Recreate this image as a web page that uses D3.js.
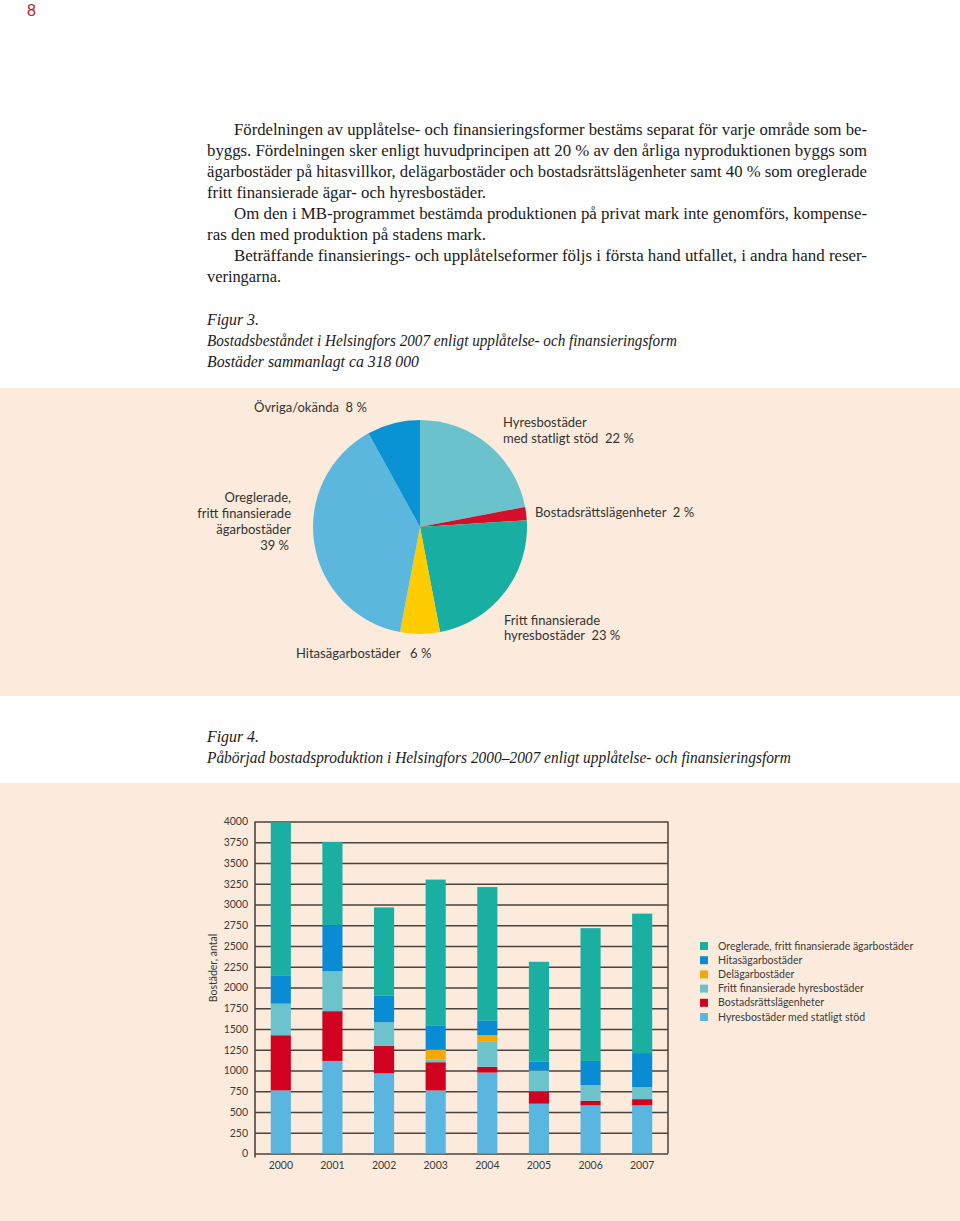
<!DOCTYPE html>
<html>
<head>
<meta charset="utf-8">
<script src="https://cdn.jsdelivr.net/npm/d3@7"></script>
<style>
  html, body { margin: 0; padding: 0; background: #fff; }
  svg { display: block; }
</style>
</head>
<body>
<svg id="page" width="960" height="1221"></svg>
<script>
// ---------- DATA ----------
const pieLabels = ["Hyresbostäder med statligt stöd", "Bostadsrättslägenheter", "Fritt finansierade hyresbostäder", "Hitasägarbostäder", "Oreglerade, fritt finansierade ägarbostäder", "Övriga/okända"];
const pieValues = [22, 2, 23, 6, 39, 8];
const pieColors = ["#6AC3CC", "#D2102A", "#18AEA2", "#FFCC00", "#5BB7DE", "#0A93D4"];

const years = ["2000", "2001", "2002", "2003", "2004", "2005", "2006", "2007"];
const seriesNames = ["Hyresbostäder med statligt stöd", "Bostadsrättslägenheter", "Fritt finansierade hyresbostäder", "Delägarbostäder", "Hitasägarbostäder", "Oreglerade, fritt finansierade ägarbostäder"];
const statligtStod   = [760, 1115, 965, 760, 975, 600, 580, 580];
const bostadsratt    = [665, 600, 330, 340, 70, 150, 55, 75];
const frittHyres     = [380, 480, 285, 30, 300, 250, 190, 145];
const delagar        = [0, 0, 0, 120, 80, 0, 0, 0];
const hitas          = [335, 555, 320, 295, 180, 110, 290, 410];
const oreglerade     = [1850, 1005, 1065, 1755, 1605, 1200, 1600, 1680];
const barColors = ["#5AB5DF", "#D0021F", "#6CC3CC", "#F5A800", "#0A8CD4", "#1BAFA1"];
const yTicks = [0, 250, 500, 750, 1000, 1250, 1500, 1750, 2000, 2250, 2500, 2750, 3000, 3250, 3500, 3750, 4000];
const legendOrder = [5, 4, 3, 2, 1, 0];

const svg = d3.select("#page");
const serif = "'Liberation Serif', 'DejaVu Serif', serif";
const sans = "Lato, 'Open Sans', sans-serif";
const peach = "#FCEBDC";

// page number
svg.append("text").attr("x", 27).attr("y", 16).attr("font-family", "'Liberation Sans', Arial, sans-serif")
  .attr("font-size", 16).attr("fill", "#B3202E").text("8");

// ---------- body text ----------
const bodyLines = [
  {x: 234, y: 135, t: "Fördelningen av upplåtelse- och finansieringsformer bestäms separat för varje område som be-", w: 633},
  {x: 207, y: 156, t: "byggs. Fördelningen sker enligt huvudprincipen att 20 % av den årliga nyproduktionen byggs som", w: 660},
  {x: 207, y: 177, t: "ägarbostäder på hitasvillkor, delägarbostäder och bostadsrättslägenheter samt 40 % som oreglerade", w: 660},
  {x: 207, y: 198, t: "fritt finansierade ägar- och hyresbostäder.", w: 279},
  {x: 234, y: 219, t: "Om den i MB-programmet bestämda produktionen på privat mark inte genomförs, kompense-", w: 633},
  {x: 207, y: 240, t: "ras den med produktion på stadens mark.", w: 279},
  {x: 234, y: 261, t: "Beträffande finansierings- och upplåtelseformer följs i första hand utfallet, i andra hand reser-", w: 633},
  {x: 207, y: 282, t: "veringarna.", w: 74}
];
svg.append("g").selectAll("text").data(bodyLines).join("text")
  .attr("x", d => d.x).attr("y", d => d.y)
  .attr("font-family", serif).attr("font-size", 16).attr("fill", "#1a1a1a")
  .attr("textLength", d => d.w).attr("lengthAdjust", "spacingAndGlyphs")
  .text(d => d.t);

const captions = [
  {x: 207, y: 325, t: "Figur 3.", w: 52},
  {x: 207, y: 346, t: "Bostadsbeståndet i Helsingfors 2007 enligt upplåtelse- och finansieringsform", w: 470},
  {x: 207, y: 367, t: "Bostäder sammanlagt ca 318 000", w: 212},
  {x: 207, y: 742, t: "Figur 4.", w: 52},
  {x: 207, y: 763, t: "Påbörjad bostadsproduktion i Helsingfors 2000–2007 enligt upplåtelse- och finansieringsform", w: 584}
];
svg.append("g").selectAll("text").data(captions).join("text")
  .attr("x", d => d.x).attr("y", d => d.y)
  .attr("font-family", serif).attr("font-style", "italic").attr("font-size", 16).attr("fill", "#1a1a1a")
  .attr("textLength", d => d.w).attr("lengthAdjust", "spacingAndGlyphs")
  .text(d => d.t);

// ---------- panels ----------
svg.append("rect").attr("x", 0).attr("y", 388).attr("width", 960).attr("height", 308).attr("fill", peach);
svg.append("rect").attr("x", 0).attr("y", 783).attr("width", 960).attr("height", 438).attr("fill", peach);

// ---------- pie ----------
const pie = d3.pie().sort(null).value(d => d);
const arc = d3.arc().innerRadius(0).outerRadius(107);
const gPie = svg.append("g").attr("transform", "translate(420,527)");
gPie.selectAll("path").data(pie(pieValues)).join("path")
  .attr("d", arc).attr("fill", (d, i) => pieColors[i]);

const pieText = [
  {x: 254, y: 412, a: "start", t: "Övriga/okända  " + pieValues[5] + " %"},
  {x: 503, y: 427, a: "start", t: "Hyresbostäder"},
  {x: 503, y: 443, a: "start", t: "med statligt stöd  " + pieValues[0] + " %"},
  {x: 535, y: 517, a: "start", t: "Bostadsrättslägenheter  " + pieValues[1] + " %"},
  {x: 291, y: 502, a: "end", t: "Oreglerade,"},
  {x: 291, y: 518, a: "end", t: "fritt finansierade"},
  {x: 291, y: 534, a: "end", t: "ägarbostäder"},
  {x: 289, y: 550, a: "end", t: pieValues[4] + " %"},
  {x: 504, y: 625, a: "start", t: "Fritt finansierade"},
  {x: 504, y: 640, a: "start", t: "hyresbostäder  " + pieValues[2] + " %"},
  {x: 296, y: 658, a: "start", t: "Hitasägarbostäder   " + pieValues[3] + " %"}
];
svg.append("g").selectAll("text").data(pieText).join("text")
  .attr("x", d => d.x).attr("y", d => d.y).attr("text-anchor", d => d.a)
  .attr("font-family", sans).attr("font-size", 13).attr("fill", "#333")
  .style("white-space", "pre")
  .text(d => d.t);

// ---------- stacked bars ----------
const plotL = 255, plotR = 668, plotT = 821.5, plotB = 1153.5;
const x = d3.scaleBand().domain(years).range([plotL, plotR]).paddingInner(0.61).paddingOuter(0.305);
const y = d3.scaleLinear().domain([0, 4000]).range([plotB, plotT]);

const table = years.map((yr, i) => ({
  year: yr, s0: statligtStod[i], s1: bostadsratt[i], s2: frittHyres[i], s3: delagar[i], s4: hitas[i], s5: oreglerade[i]
}));
const keys = ["s0", "s1", "s2", "s3", "s4", "s5"];
const stacked = d3.stack().keys(keys)(table);

// grid + left axis
const gGrid = svg.append("g").attr("transform", `translate(${plotL},0)`)
  .call(d3.axisLeft(y).tickValues(yTicks).tickSize(-(plotR - plotL)).tickSizeOuter(0).tickPadding(7).tickFormat(d3.format("d")));
gGrid.select(".domain").attr("stroke", "#3f3a36").attr("stroke-width", 1.5)
  .attr("d", `M0,${plotT}V${plotB + 4}`);
gGrid.selectAll(".tick line").attr("stroke", "#4a423c").attr("stroke-width", 1.5);
gGrid.selectAll(".tick text").attr("font-family", sans).attr("font-size", 10.5).attr("fill", "#3a3a3a");

// right border
svg.append("line").attr("x1", plotR).attr("x2", plotR).attr("y1", plotT).attr("y2", plotB)
  .attr("stroke", "#4a423c").attr("stroke-width", 1.5);

svg.append("g").selectAll("g").data(stacked).join("g")
  .attr("fill", (d, i) => barColors[i])
  .selectAll("rect").data(d => d).join("rect")
  .attr("x", d => x(d.data.year)).attr("width", x.bandwidth())
  .attr("y", d => y(d[1])).attr("height", d => y(d[0]) - y(d[1]));

// x axis labels
const gX = svg.append("g").attr("transform", `translate(0,${plotB})`)
  .call(d3.axisBottom(x).tickSize(0).tickPadding(8));
gX.select(".domain").remove();
gX.selectAll(".tick text").attr("font-family", sans).attr("font-size", 10.5).attr("fill", "#3a3a3a");

// y title
svg.append("text").attr("transform", "translate(217,968) rotate(-90)")
  .attr("text-anchor", "middle").attr("font-family", sans).attr("font-size", 10.5).attr("fill", "#3a3a3a")
  .text("Bostäder, antal");

// legend
const gLeg = svg.append("g");
legendOrder.forEach((si, k) => {
  const ly = 946 + k * 14.2;
  gLeg.append("rect").attr("x", 700).attr("y", ly - 4).attr("width", 8).attr("height", 8).attr("fill", barColors[si]);
  gLeg.append("text").attr("x", 718).attr("y", ly + 3.5).attr("font-family", sans).attr("font-size", 10.5)
    .attr("fill", "#3a3a3a").text(seriesNames[si]);
});
</script>
</body>
</html>
